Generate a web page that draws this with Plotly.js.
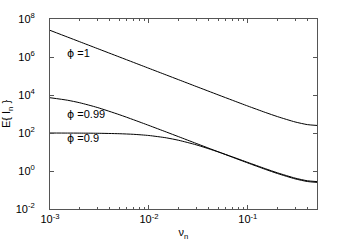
<!DOCTYPE html>
<html>
<head>
<meta charset="utf-8">
<script src="https://cdn.plot.ly/plotly-3.0.1.min.js"></script>
<style>html,body{margin:0;padding:0;background:#fff;}#chart{width:350px;height:250px;}</style>
</head>
<body>
<div id="chart"></div>
<script>
const nu = [0.001, 0.0015, 0.002, 0.003, 0.005, 0.007, 0.01, 0.015, 0.02, 0.03, 0.05, 0.07, 0.1, 0.15, 0.2, 0.3, 0.4, 0.5];
const phi1 = [2.533e7, 1.126e7, 6.333e6, 2.815e6, 1.013e6, 5.17e5, 2.534e5, 1.127e5, 6.34e4, 2.823e4, 1.022e4, 5254, 2618, 1213, 724, 382, 276, 250];
const phi099 = [7190, 5321, 3901, 2214, 928.5, 496.3, 249.6, 112.5, 63.6, 28.4, 10.31, 5.30, 2.644, 1.225, 0.731, 0.386, 0.279, 0.2525];
const phi09 = [99.6, 99.2, 98.6, 96.9, 91.8, 85.2, 73.8, 55.6, 41.3, 23.9, 10.19, 5.52, 2.83, 1.33, 0.798, 0.423, 0.306, 0.277];
const seriesLabels = ['\u03d5 =1', '\u03d5 =0.99', '\u03d5 =0.9'];
const labelPos = [[-2.85, 6.21], [-2.85, 3.0], [-2.85, 1.72]];
const xTickVals = [0.001, 0.01, 0.1];
const xTickText = ['10<sup>-3</sup>', '10<sup>-2</sup>', '10<sup>-1</sup>'];
const yTickVals = [0.01, 1, 100, 1e4, 1e6, 1e8];
const yTickText = ['10<sup>-2</sup>', '10<sup>0</sup>', '10<sup>2</sup>', '10<sup>4</sup>', '10<sup>6</sup>', '10<sup>8</sup>'];

const lineStyle = {color: '#000', width: 1, shape: 'spline', smoothing: 0.6};
const traces = [phi1, phi099, phi09].map((ys, i) => ({
  x: nu, y: ys, type: 'scatter', mode: 'lines', line: lineStyle, name: seriesLabels[i], hoverinfo: 'skip'
}));

const fnt = {family: 'Liberation Sans, Arial, sans-serif', size: 11, color: '#000'};
const axisBase = {
  type: 'log', showgrid: false, zeroline: false, showline: true, linecolor: '#555', linewidth: 1,
  mirror: 'ticks', ticks: 'inside', ticklen: 4, tickcolor: '#555', tickwidth: 1,
  tickmode: 'array', tickfont: fnt
};
const layout = {
  width: 350, height: 250,
  margin: {l: 50, r: 33, t: 19, b: 41},
  paper_bgcolor: '#fff', plot_bgcolor: '#fff',
  showlegend: false,
  font: fnt,
  xaxis: Object.assign({}, axisBase, {
    range: [-3, Math.log10(0.5)], tickvals: xTickVals, ticktext: xTickText,
    minor: {ticks: 'inside', ticklen: 2, tickcolor: '#555', dtick: 'D1', showgrid: false},
    title: {text: '\u03bd<sub>n</sub>', font: fnt, standoff: 4}
  }),
  yaxis: Object.assign({}, axisBase, {
    range: [-2, 8], tickvals: yTickVals, ticktext: yTickText,
    ticklabelstandoff: 12,
    title: {text: 'E{ I<sub>n</sub> }', font: fnt, standoff: 2}
  }),
  annotations: seriesLabels.map((t, i) => ({
    x: labelPos[i][0], y: labelPos[i][1], xref: 'x', yref: 'y',
    text: '<span style="font-family:DejaVu Sans">' + t.slice(0, 1) + '</span>' + t.slice(1),
    showarrow: false, xanchor: 'left', yanchor: 'middle', font: fnt
  }))
};
Plotly.newPlot('chart', traces, layout, {displayModeBar: false, staticPlot: true});
</script>
</body>
</html>
